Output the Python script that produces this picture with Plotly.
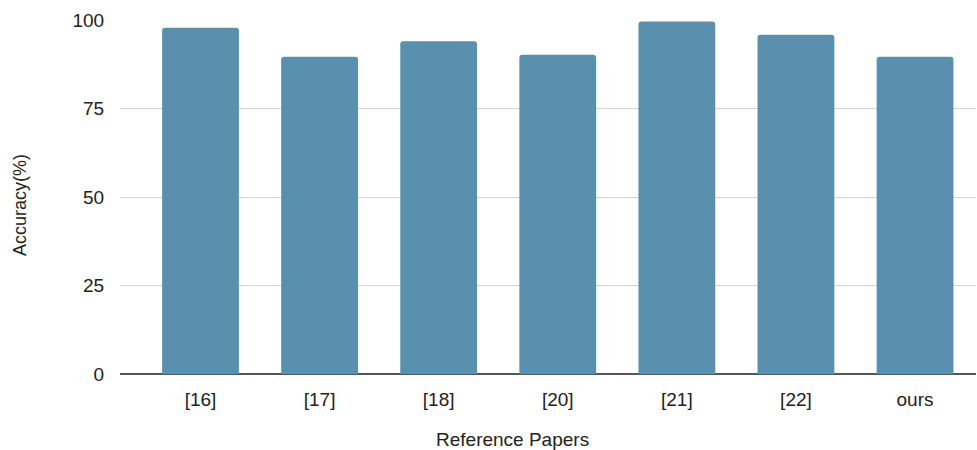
import plotly.graph_objects as go

papers = ["[16]", "[17]", "[18]", "[20]", "[21]", "[22]", "ours"]
accuracy = [97.8, 89.6, 94.0, 90.2, 99.6, 95.8, 89.6]
y_ticks = [0, 25, 50, 75, 100]

bar_color = "#5890ad"
font_family = "Liberation Sans, Arial, sans-serif"
text_color = "#222222"

fig = go.Figure()
fig.add_trace(go.Bar(
    x=list(range(len(papers))),
    y=accuracy,
    marker=dict(color=bar_color, line=dict(width=0), cornerradius=3),
    width=0.645,
    showlegend=False,
))

fig.update_layout(
    width=977, height=450,
    margin=dict(l=120, r=1, t=20, b=76),
    paper_bgcolor="white",
    plot_bgcolor="white",
    font=dict(family=font_family, size=19, color=text_color),
)

fig.update_xaxes(
    range=[-0.676, 6.512],
    tickmode="array",
    tickvals=list(range(len(papers))),
    ticktext=papers,
    showgrid=False,
    zeroline=False,
    ticks="outside", ticklen=8, tickcolor="rgba(0,0,0,0)",
    tickfont=dict(size=19, color=text_color),
)

fig.update_yaxes(
    range=[0, 100],
    tickvals=y_ticks,
    showgrid=True, gridcolor="#d3d3d3", gridwidth=1,
    zeroline=True, zerolinecolor="#555555", zerolinewidth=2,
    ticks="outside", ticklen=11, tickcolor="rgba(0,0,0,0)",
    tickfont=dict(size=19, color=text_color),
)

# axis titles placed as annotations to match the reference positions
fig.add_annotation(
    text="Reference Papers", xref="paper", yref="paper",
    x=0.459, y=-0.186, xanchor="center", yanchor="middle",
    showarrow=False, font=dict(size=19, color=text_color),
)
fig.add_annotation(
    text="Accuracy(%)", xref="paper", yref="paper",
    x=-0.117, y=0.477, xanchor="center", yanchor="middle",
    textangle=-90, showarrow=False, font=dict(size=18, color=text_color),
)

fig.write_html(
    "out.html",
    config={"displayModeBar": False},
    post_script="document.body.style.margin='0';",
)
